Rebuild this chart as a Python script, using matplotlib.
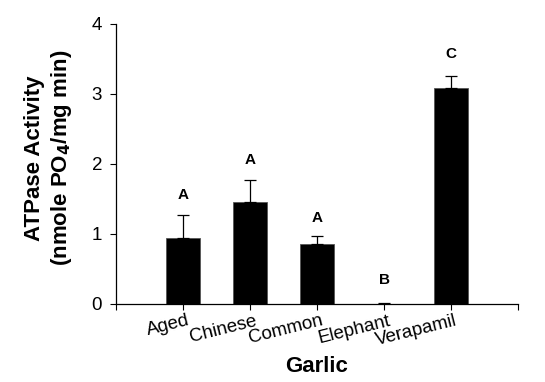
import matplotlib
matplotlib.use("Agg")
import matplotlib.pyplot as plt
import matplotlib.transforms as mtransforms
import numpy as np

categories = ["Aged", "Chinese", "Common", "Elephant", "Verapamil"]
means = [0.95, 1.46, 0.86, 0.0, 3.09]
errors = [0.32, 0.31, 0.11, 0.02, 0.17]
letters = ["A", "A", "A", "B", "C"]
letter_y = [1.56, 2.06, 1.23, 0.34, 3.57]

plt.rcParams['font.family'] = ['Liberation Sans', 'DejaVu Sans']

fig = plt.figure(figsize=(5.45, 3.82), dpi=100)
ax = fig.add_axes([116/545, 1-304/382, (518-116)/545, (304-24)/382])

x = np.arange(1, len(categories) + 1)
ax.bar(x, means, width=0.5, color='black', edgecolor='#555555', linewidth=0.6)
ax.errorbar(x, means, yerr=[np.zeros(len(errors)), errors], fmt='none',
            ecolor='black', elinewidth=0.9, capsize=4, capthick=0.9)
for xi, lt, ly in zip(x, letters, letter_y):
    ax.text(xi, ly, lt, ha='center', va='center', fontsize=11, fontweight='bold')

ax.set_xlim(0, 6)
ax.set_ylim(0, 4)
ax.set_yticks([0, 1, 2, 3, 4])
ax.set_xticks(np.arange(0, 7))
ax.set_xticklabels([""] + categories + [""], rotation=14, ha='right',
                   rotation_mode='anchor', fontsize=13.5)
ax.tick_params(axis='x', length=4, width=0.8, pad=2)
ax.tick_params(axis='y', length=4, width=0.8, labelsize=13.5, pad=6)
ax.spines['top'].set_visible(False)
ax.spines['right'].set_visible(False)
ax.spines['left'].set_linewidth(0.9)
ax.spines['bottom'].set_linewidth(0.9)

offset = mtransforms.ScaledTranslation(4/100, 0, fig.dpi_scale_trans)
for lbl in ax.get_xticklabels():
    lbl.set_transform(lbl.get_transform() + offset)

fig.text(35/545, 1-158/382, "ATPase Activity", rotation=90, ha='center', va='center',
         fontsize=16, fontweight='bold')
fig.text(62/545, 1-158/382, "(nmole PO$_\\mathbf{4}$/mg min)", rotation=90, ha='center', va='center',
         fontsize=16, fontweight='bold')
fig.text(317/545, 1-367/382, "Garlic", ha='center', va='center', fontsize=16, fontweight='bold')

fig.savefig("out.png", dpi=100)
